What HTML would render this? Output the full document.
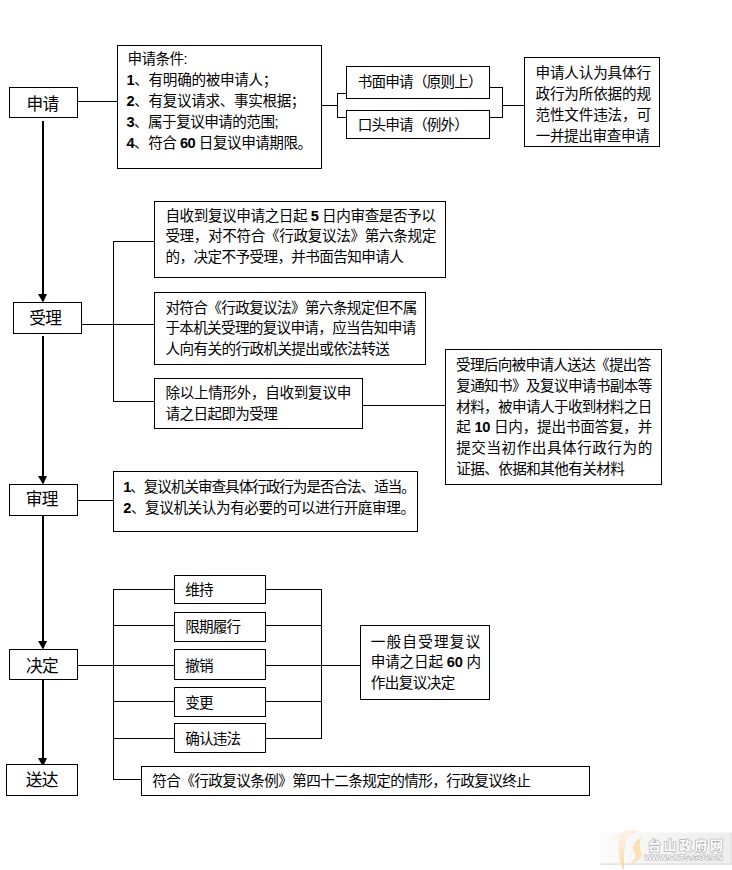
<!DOCTYPE html>
<html lang="zh-CN"><head><meta charset="utf-8"><title>行政复议流程图</title>
<style>
html,body{margin:0;padding:0;background:#fff}
body{width:732px;height:870px;position:relative;overflow:hidden;font-family:"Liberation Sans",sans-serif}
svg{position:absolute;left:0;top:0;display:block}
.t{position:absolute;white-space:nowrap;overflow:hidden;line-height:1.2;color:transparent;color:rgba(0,0,0,0);font-family:"Liberation Sans",sans-serif}
</style></head><body>
<svg width="732" height="870" viewBox="0 0 732 870" shape-rendering="crispEdges">
<g fill="#000">
<rect x="42" y="121" width="2" height="174"/>
<path d="M38 294 H47 L43.3 302 H42.7 Z" shape-rendering="geometricPrecision"/>
<rect x="42" y="336" width="2" height="141"/>
<path d="M38 476 H47 L43.3 484 H42.7 Z" shape-rendering="geometricPrecision"/>
<rect x="42" y="516" width="2" height="126"/>
<path d="M38 641 H47 L43.3 649 H42.7 Z" shape-rendering="geometricPrecision"/>
<rect x="42" y="680" width="2" height="79"/>
<path d="M38 758 H47 L43.3 766 H42.7 Z" shape-rendering="geometricPrecision"/>
</g>
<g fill="#000">
<rect x="78" y="101" width="40" height="1"/>
<rect x="322" y="105" width="16" height="1"/>
<rect x="337" y="93" width="1" height="25"/>
<rect x="337" y="93" width="10" height="1"/>
<rect x="337" y="117" width="10" height="1"/>
<rect x="490" y="87" width="13" height="1"/>
<rect x="490" y="117" width="13" height="1"/>
<rect x="502" y="87" width="1" height="31"/>
<rect x="502" y="105" width="23" height="1"/>
<rect x="82" y="324" width="73" height="1"/>
<rect x="113" y="241" width="1" height="161"/>
<rect x="113" y="241" width="42" height="1"/>
<rect x="113" y="401" width="42" height="1"/>
<rect x="363" y="405" width="83" height="1"/>
<rect x="78" y="500" width="36" height="1"/>
<rect x="78" y="665" width="97" height="1"/>
<rect x="113" y="589" width="1" height="191"/>
<rect x="113" y="589" width="62" height="1"/>
<rect x="113" y="625" width="62" height="1"/>
<rect x="113" y="701" width="62" height="1"/>
<rect x="113" y="738" width="62" height="1"/>
<rect x="113" y="779" width="29" height="1"/>
<rect x="266" y="589" width="56" height="1"/>
<rect x="266" y="625" width="56" height="1"/>
<rect x="266" y="665" width="95" height="1"/>
<rect x="266" y="701" width="56" height="1"/>
<rect x="266" y="738" width="56" height="1"/>
<rect x="321" y="589" width="1" height="150"/>
</g>
<g fill="#fff" stroke="#000" stroke-width="1">
<rect x="9.5" y="87.5" width="68" height="30"/>
<rect x="117.5" y="45.5" width="204" height="123"/>
<rect x="346.5" y="66.5" width="143" height="32"/>
<rect x="346.5" y="110.5" width="143" height="28"/>
<rect x="524.5" y="57.5" width="135" height="89"/>
<rect x="13.5" y="302.5" width="68" height="31"/>
<rect x="154.5" y="201.5" width="291" height="76"/>
<rect x="154.5" y="292.5" width="271" height="72"/>
<rect x="154.5" y="378.5" width="208" height="50"/>
<rect x="445.5" y="349.5" width="216" height="135"/>
<rect x="9.5" y="484.5" width="68" height="31"/>
<rect x="113.5" y="471.5" width="304" height="60"/>
<rect x="9.5" y="649.5" width="68" height="30"/>
<rect x="174.5" y="575.5" width="91" height="28"/>
<rect x="174.5" y="612.5" width="91" height="29"/>
<rect x="174.5" y="649.5" width="91" height="30"/>
<rect x="174.5" y="687.5" width="91" height="29"/>
<rect x="174.5" y="723.5" width="91" height="29"/>
<rect x="360.5" y="625.5" width="129" height="74"/>
<rect x="6.5" y="764.5" width="71" height="31"/>
<rect x="141.5" y="766.5" width="448" height="29"/>
</g>
<g fill="#000" shape-rendering="geometricPrecision" font-family="&quot;Liberation Sans&quot;, &quot;Noto Sans CJK SC&quot;, sans-serif" font-size="14.6">
<text x="127.48" y="64.39" textLength="60" lengthAdjust="spacing">申请条件:</text>
<text x="126.48" y="85.29" textLength="151" lengthAdjust="spacing"><tspan font-weight="bold">1</tspan>、有明确的被申请人；</text>
<text x="126.48" y="106.09" textLength="179" lengthAdjust="spacing"><tspan font-weight="bold">2</tspan>、有复议请求、事实根据；</text>
<text x="126.48" y="127.29" textLength="152" lengthAdjust="spacing"><tspan font-weight="bold">3</tspan>、属于复议申请的范围;</text>
<text x="126.48" y="147.69" textLength="185.7" lengthAdjust="spacing"><tspan font-weight="bold">4</tspan>、符合 <tspan font-weight="bold">60</tspan> 日复议申请期限。</text>
<text x="357.69" y="86.69" textLength="125" lengthAdjust="spacing">书面申请（原则上）</text>
<text x="357.69" y="129.89" textLength="111.2" lengthAdjust="spacing">口头申请（例外）</text>
<text x="535.48" y="77.79" textLength="115.6" lengthAdjust="spacing">申请人认为具体行</text>
<text x="535.48" y="98.79" textLength="115.6" lengthAdjust="spacing">政行为所依据的规</text>
<text x="535.48" y="119.59" textLength="115.6" lengthAdjust="spacing">范性文件违法，可</text>
<text x="535.68" y="140.69" textLength="114.1" lengthAdjust="spacing">一并提出审查申请</text>
<text x="165.38" y="220.69" textLength="270.6" lengthAdjust="spacing">自收到复议申请之日起 <tspan font-weight="bold">5</tspan> 日内审查是否予以</text>
<text x="165.38" y="241.49" textLength="270.9" lengthAdjust="spacing">受理，对不符合《行政复议法》第六条规定</text>
<text x="165.38" y="262.29" textLength="238.6" lengthAdjust="spacing">的，决定不予受理，并书面告知申请人</text>
<text x="165.38" y="312.79" textLength="251.9" lengthAdjust="spacing">对符合《行政复议法》第六条规定但不属</text>
<text x="165.38" y="333.49" textLength="250.9" lengthAdjust="spacing">于本机关受理的复议申请，应当告知申请</text>
<text x="165.38" y="354.19" textLength="224.6" lengthAdjust="spacing">人向有关的行政机关提出或依法转送</text>
<text x="165.38" y="398.09" textLength="185.9" lengthAdjust="spacing">除以上情形外，自收到复议申</text>
<text x="165.38" y="418.79" textLength="112.6" lengthAdjust="spacing">请之日起即为受理</text>
<text x="455.99" y="370.09" textLength="195.4" lengthAdjust="spacing">受理后向被申请人送达《提出答</text>
<text x="456.19" y="390.89" textLength="196.1" lengthAdjust="spacing">复通知书》及复议申请书副本等</text>
<text x="456.19" y="411.69" textLength="196.1" lengthAdjust="spacing">材料，被申请人于收到材料之日</text>
<text x="456.19" y="432.49" textLength="196.1" lengthAdjust="spacing">起 <tspan font-weight="bold">10</tspan> 日内，提出书面答复，并</text>
<text x="456.19" y="453.29" textLength="196.1" lengthAdjust="spacing">提交当初作出具体行政行为的</text>
<text x="456.19" y="474.29" textLength="168.6" lengthAdjust="spacing">证据、依据和其他有关材料</text>
<text x="123.19" y="492.49" textLength="292.7" lengthAdjust="spacing"><tspan font-weight="bold">1</tspan>、复议机关审查具体行政行为是否合法、适当。</text>
<text x="123.19" y="513.09" textLength="291.8" lengthAdjust="spacing"><tspan font-weight="bold">2</tspan>、复议机关认为有必要的可以进行开庭审理。</text>
<text x="185.19" y="594.99" textLength="28.4" lengthAdjust="spacing">维持</text>
<text x="185.19" y="632.29" textLength="56" lengthAdjust="spacing">限期履行</text>
<text x="185.19" y="670.89" textLength="28.4" lengthAdjust="spacing">撤销</text>
<text x="185.19" y="707.89" textLength="28.4" lengthAdjust="spacing">变更</text>
<text x="185.19" y="744.19" textLength="56" lengthAdjust="spacing">确认违法</text>
<text x="370.69" y="646.79" textLength="109.6" lengthAdjust="spacing">一般自受理复议</text>
<text x="370.69" y="667.49" textLength="110.5" lengthAdjust="spacing">申请之日起 <tspan font-weight="bold">60</tspan> 内</text>
<text x="370.69" y="687.79" textLength="84.6" lengthAdjust="spacing">作出复议决定</text>
<text x="152.19" y="786.49" textLength="378.6" lengthAdjust="spacing">符合《行政复议条例》第四十二条规定的情形，行政复议终止</text>
<text x="26.44" y="109.77" font-size="16.7" textLength="32.7" lengthAdjust="spacing">申请</text>
<text x="29.14" y="324.27" font-size="16.7" textLength="32.7" lengthAdjust="spacing">受理</text>
<text x="25.64" y="505.47" font-size="16.7" textLength="32.7" lengthAdjust="spacing">审理</text>
<text x="26.04" y="671.57" font-size="16.7" textLength="32.7" lengthAdjust="spacing">决定</text>
<text x="25.64" y="786.27" font-size="16.7" textLength="32.7" lengthAdjust="spacing">送达</text>
</g>
<defs><linearGradient id="wg" x1="0" x2="1" y1="0" y2="0"><stop offset="0" stop-color="#fdfdfd"/><stop offset="0.25" stop-color="#f7f7f7"/><stop offset="1" stop-color="#eeeeee"/></linearGradient><linearGradient id="og" x1="0" x2="0.3" y1="0" y2="1"><stop offset="0" stop-color="#fef6ee"/><stop offset="0.5" stop-color="#fdebd6"/><stop offset="1" stop-color="#fbd6a0"/></linearGradient></defs><g shape-rendering="geometricPrecision"><rect x="598" y="832.5" width="134" height="31.5" fill="url(#wg)"/><rect x="600" y="863.6" width="132" height="1" fill="#d2d2d2"/><rect x="730.6" y="833" width="1" height="31" fill="#dcdcdc"/><path d="M605.4 844.9 C608 840.5 612.5 836.8 619 834.6 C623 832 628 830.3 632.5 830.1 C635 830.2 637.5 830.8 639.2 831.7 C636 832.3 631.5 833.9 627.6 836.4 C625.6 842 624.4 850 623.8 857 C623.7 862 624 866 624.3 869.2 L623.1 869 C620.6 863 618.9 856 618.5 848 C618.3 843.5 618.5 839.5 619.1 836.2 C613.5 837.8 609 840.8 605.4 844.9 Z" fill="url(#og)"/><path d="M641.6 837.2 C637.5 839 634 842.8 632.9 846.8 C632.6 849.4 633.6 851.4 635 853.4 C636.6 856 635.4 860 629.4 863.4 C634 863.2 638.4 861 640.4 857.6 C641.8 855.6 642 853.6 641.2 851.8 C639.6 848.6 639 843.5 641.6 837.2 Z" fill="#fbdfb6"/><text x="648" y="850.2" font-family="&quot;Liberation Sans&quot;, &quot;Noto Sans CJK SC&quot;, sans-serif" font-size="13" font-weight="bold" fill="#fff" stroke="#b2b2b2" stroke-width="1.5" paint-order="stroke" stroke-linejoin="round" textLength="75" lengthAdjust="spacing">台山政府网</text><text x="644.4" y="859.5" font-family="&quot;Liberation Sans&quot;, sans-serif" font-size="7.5" font-weight="bold" fill="#fff" stroke="#a8a8a8" stroke-width="1.05" paint-order="stroke" stroke-linejoin="round" textLength="78" lengthAdjust="spacingAndGlyphs">WWW.CNTS.GOV.CN</text></g>
</svg>
<div id="txt">
<div class="t" style="left:128px;top:50px;font-size:14px;width:59px">申请条件:</div>
<div class="t" style="left:127px;top:71px;font-size:14px;width:148px">1、有明确的被申请人；</div>
<div class="t" style="left:127px;top:92px;font-size:14px;width:176px">2、有复议请求、事实根据；</div>
<div class="t" style="left:127px;top:113px;font-size:14px;width:152px">3、属于复议申请的范围;</div>
<div class="t" style="left:127px;top:134px;font-size:14px;width:182px">4、符合 60 日复议申请期限。</div>
<div class="t" style="left:358px;top:73px;font-size:14px;width:124px">书面申请（原则上）</div>
<div class="t" style="left:358px;top:116px;font-size:14px;width:110px">口头申请（例外）</div>
<div class="t" style="left:536px;top:64px;font-size:14px;width:115px">申请人认为具体行</div>
<div class="t" style="left:536px;top:85px;font-size:14px;width:115px">政行为所依据的规</div>
<div class="t" style="left:536px;top:106px;font-size:14px;width:115px">范性文件违法，可</div>
<div class="t" style="left:536px;top:127px;font-size:14px;width:113px">一并提出审查申请</div>
<div class="t" style="left:166px;top:207px;font-size:14px;width:269px">自收到复议申请之日起 5 日内审查是否予以</div>
<div class="t" style="left:166px;top:228px;font-size:14px;width:270px">受理，对不符合《行政复议法》第六条规定</div>
<div class="t" style="left:166px;top:248px;font-size:14px;width:238px">的，决定不予受理，并书面告知申请人</div>
<div class="t" style="left:166px;top:299px;font-size:14px;width:251px">对符合《行政复议法》第六条规定但不属</div>
<div class="t" style="left:166px;top:320px;font-size:14px;width:250px">于本机关受理的复议申请，应当告知申请</div>
<div class="t" style="left:166px;top:340px;font-size:14px;width:224px">人向有关的行政机关提出或依法转送</div>
<div class="t" style="left:166px;top:384px;font-size:14px;width:185px">除以上情形外，自收到复议申</div>
<div class="t" style="left:166px;top:405px;font-size:14px;width:112px">请之日起即为受理</div>
<div class="t" style="left:456px;top:356px;font-size:14px;width:195px">受理后向被申请人送达《提出答</div>
<div class="t" style="left:456px;top:377px;font-size:14px;width:195px">复通知书》及复议申请书副本等</div>
<div class="t" style="left:456px;top:398px;font-size:14px;width:195px">材料，被申请人于收到材料之日</div>
<div class="t" style="left:456px;top:419px;font-size:14px;width:195px">起 10 日内，提出书面答复，并</div>
<div class="t" style="left:456px;top:439px;font-size:14px;width:196px">提交当初作出具体行政行为的</div>
<div class="t" style="left:456px;top:460px;font-size:14px;width:168px">证据、依据和其他有关材料</div>
<div class="t" style="left:124px;top:479px;font-size:14px;width:289px">1、复议机关审查具体行政行为是否合法、适当。</div>
<div class="t" style="left:124px;top:499px;font-size:14px;width:288px">2、复议机关认为有必要的可以进行开庭审理。</div>
<div class="t" style="left:186px;top:581px;font-size:14px;width:27px">维持</div>
<div class="t" style="left:186px;top:618px;font-size:14px;width:55px">限期履行</div>
<div class="t" style="left:186px;top:657px;font-size:14px;width:27px">撤销</div>
<div class="t" style="left:186px;top:694px;font-size:14px;width:27px">变更</div>
<div class="t" style="left:186px;top:730px;font-size:14px;width:55px">确认违法</div>
<div class="t" style="left:371px;top:633px;font-size:14px;width:111px">一般自受理复议</div>
<div class="t" style="left:371px;top:654px;font-size:14px;width:110px">申请之日起 60 内</div>
<div class="t" style="left:371px;top:674px;font-size:14px;width:84px">作出复议决定</div>
<div class="t" style="left:152px;top:773px;font-size:14px;width:378px">符合《行政复议条例》第四十二条规定的情形，行政复议终止</div>
<div class="t" style="left:27px;top:94px;font-size:16px;width:32px">申请</div>
<div class="t" style="left:30px;top:308px;font-size:16px;width:32px">受理</div>
<div class="t" style="left:26px;top:490px;font-size:16px;width:32px">审理</div>
<div class="t" style="left:26px;top:656px;font-size:16px;width:32px">决定</div>
<div class="t" style="left:26px;top:770px;font-size:16px;width:32px">送达</div>
<div class="t" style="left:648px;top:837px;font-size:13px;width:80px">台山政府网</div>
<div class="t" style="left:644px;top:853px;font-size:7px;width:80px">WWW.CNTS.GOV.CN</div>
</div>
</body></html>
